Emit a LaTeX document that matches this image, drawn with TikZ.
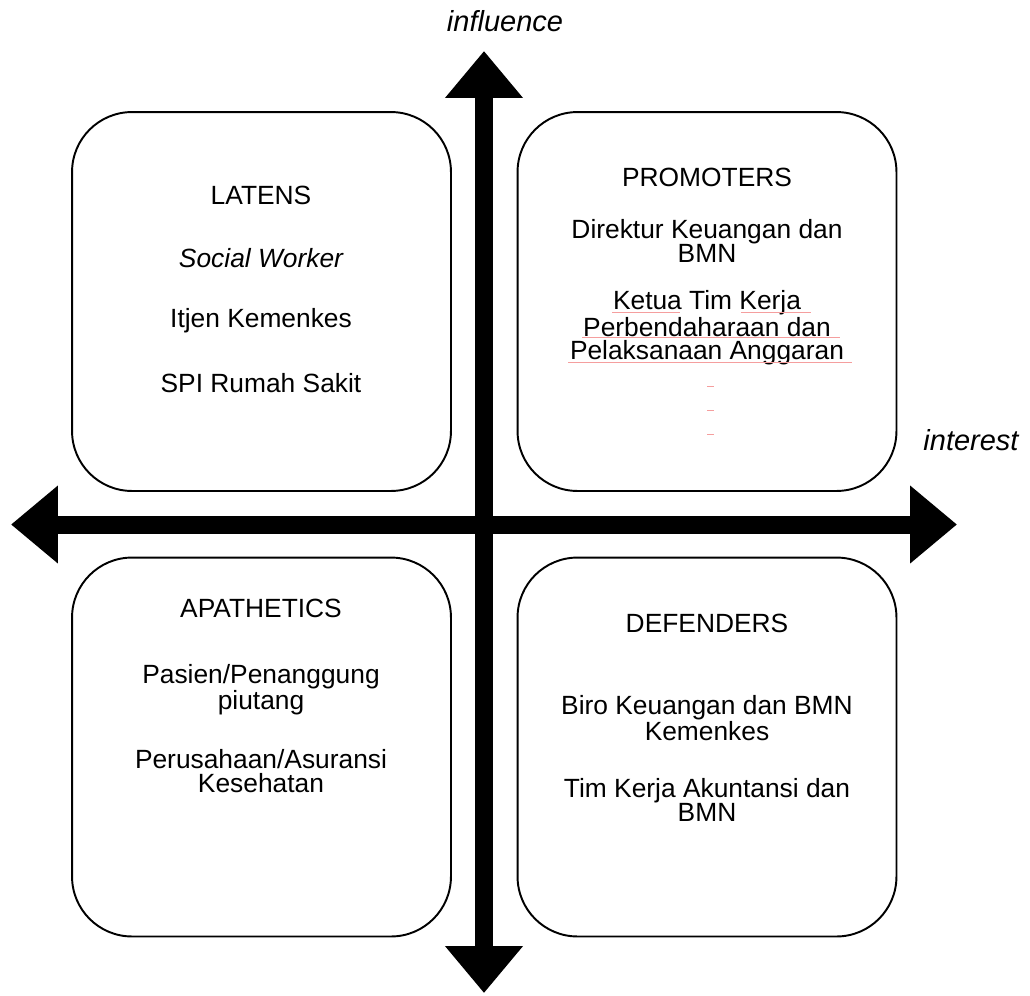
\documentclass[tikz,border=0pt]{standalone}
\usepackage{fontspec}
\setmainfont{Liberation Sans}
\usepackage{tikz}
\usetikzlibrary{arrows.meta}
\definecolor{white}{rgb}{1,1,1}
\definecolor{spellred}{rgb}{0.96,0.62,0.62}

\begin{document}
\begin{tikzpicture}[x=0.02cm,y=-0.02cm]
\useasboundingbox (0,0) rectangle (1030,995);
\begin{scope}[every node/.style={rectangle,rounded corners=1.2cm,draw,line width=1.1pt,
              minimum width=7.58cm,minimum height=7.58cm}]
    \node (latens) at (261.5,301.5) {};
    \node (promoters) at (707,301.5) {};
    \node (apathetics) at (261.5,747) {};
    \node (defenders) at (707,747) {};
\end{scope}
\begin{scope}[every node/.style={align=center,font=\fontsize{15}{13.5}\selectfont}]
    \node[font=\fontsize{16.5}{16}\selectfont\itshape] (influence) at (505,21) {influence};
    \node[font=\fontsize{16.5}{16}\selectfont\itshape] (interest) at (971,440) {interest};
    \node (latensT) at (261,195) {LATENS};
    \node (latens1) at (261,258) {\itshape Social Worker};
    \node (latens2) at (261,321) {Itjen Kemenkes};
    \node (latens3) at (261,383) {SPI Rumah Sakit};
    \node (promotersT) at (707,177) {PROMOTERS};
    \node (promoters1) at (707,241) {Direktur Keuangan dan\\BMN};
    \node (promoters2) at (707,328) {Ketua Tim Kerja\\Perbendaharaan dan\\Pelaksanaan Anggaran};
    \node (apatheticsT) at (261,608) {APATHETICS};
    \node (apathetics1) at (261,690) {Pasien/Penanggung\\piutang};
    \node (apathetics2) at (261,771) {Perusahaan/Asuransi\\Kesehatan};
    \node (defendersT) at (707,623) {DEFENDERS};
    \node (defenders1) at (707,718) {Biro Keuangan dan BMN\\Kemenkes};
    \node (defenders2) at (707,800) {Tim Kerja Akuntansi dan\\BMN};
\end{scope}

% spell check marks
\begin{scope}[every path/.style={draw=spellred,line width=0.4pt}]
    \path (612,312) -- (680,312);
    \path (741,312) -- (811,312);
    \path (582,337) -- (840,337);
    \path (568,362) -- (852,362);
    \path (707,386) -- (714,386);
    \path (707,410) -- (714,410);
    \path (707,434) -- (714,434);
\end{scope}

\coordinate (up) at (484,51);
\coordinate (down) at (484,993);
\coordinate (left) at (11,524.5);
\coordinate (right) at (957,524.5);
\begin{scope}[>={Triangle[length=0.94cm,width=1.5cm]},
              every edge/.style={draw=black,line width=0.36cm}]
    \path [<->] (left) edge (right);
    \path [<->] (down) edge (up);
\end{scope}
\end{tikzpicture}
\end{document}
